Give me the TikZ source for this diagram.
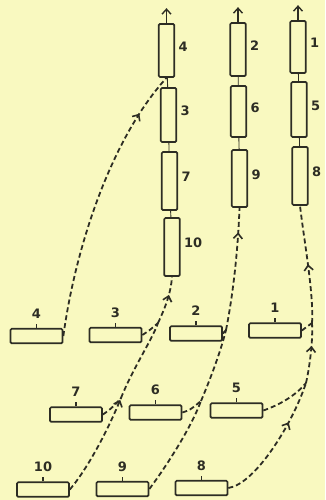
\documentclass[tikz,border=0pt]{standalone}
\usepackage{fontspec}
\usepackage{tikz}
\usetikzlibrary{arrows.meta}
\usetikzlibrary{decorations.markings}
\newfontfamily\tagfont{DejaVu Sans}
\definecolor{paper}{RGB}{249,249,192}
\definecolor{ink}{RGB}{45,45,36}
\tikzset{
  tall/.style={draw=ink, line width=1.7pt, rounded corners=1.2pt, minimum width=15.5pt, inner sep=0pt},
  flat/.style={draw=ink, line width=1.7pt, rounded corners=1.2pt, minimum width=52pt, minimum height=14.5pt, inner sep=0pt},
  tag/.style={font=\tagfont\bfseries\fontsize{13}{15}\selectfont, text=ink},
  flow/.style={draw=ink, line width=1.8pt, dash pattern=on 5pt off 3pt},
  link/.style={draw=ink, line width=0.9pt},
  chev/.style={-{Straight Barb[length=5pt,width=9pt]}},
  midtip/.style={postaction={decorate}, decoration={markings,
    mark=at position #1 with {\arrow[ink, line width=1.6pt]{Straight Barb[length=5pt,width=9pt]}}}},
}
% column slot: name, x, y, height, number
\newcommand{\colbox}[5]{%
  \node[tall, minimum height=#4pt, label={[tag, yshift=4pt]right:#5}] (#1) at (#2,#3) {};
}
% row slot: name, x, y, number
\newcommand{\rowbox}[4]{%
  \node[flat, label={[tag, label distance=6pt]above:#4}] (#1) at (#2,#3) {};
  \draw[link, line width=1.2pt] (#1.north) -- ++(0,-4);
}

\begin{document}
\begin{tikzpicture}[x=1pt, y=-1pt]
  \useasboundingbox[fill=paper] (0,0) rectangle (325,500);
  \colbox{v4}{166.5}{50.5}{53}{4}
  \colbox{v3}{168.5}{115}{54}{3}
  \colbox{v7}{169.5}{181}{58}{7}
  \colbox{v10}{172}{247}{58}{10}
  \colbox{v2}{238}{49.5}{53}{2}
  \colbox{v6}{238.5}{111.5}{51}{6}
  \colbox{v9}{239.5}{178.5}{57}{9}
  \colbox{v1}{298}{47}{52}{1}
  \colbox{v5}{299}{109.5}{55}{5}
  \colbox{v8}{300}{176}{58}{8}
  \rowbox{h4}{36.5}{336}{4}
  \rowbox{h3}{115.5}{335}{3}
  \rowbox{h2}{196}{333.5}{2}
  \rowbox{h1}{275}{330.5}{1}
  \rowbox{h7}{76}{414.5}{7}
  \rowbox{h6}{155.5}{412.5}{6}
  \rowbox{h5}{236.5}{410.5}{5}
  \rowbox{h10}{43}{489.5}{10}
  \rowbox{h9}{122.5}{489}{9}
  \rowbox{h8}{201.5}{488}{8}
  \foreach \a/\b in {v4/v3, v3/v7, v7/v10, v2/v6, v6/v9, v1/v5, v5/v8}
    \draw[link] (\a) -- (\b);
  \foreach \c in {v4, v2, v1}
    \draw[link, line width=1.4pt, chev] (\c.north) -- ++(0,-15);
  % where the side paths meet
  \coordinate (j7) at (121,398);
  \coordinate (j3) at (158,323);
  \coordinate (j6) at (201,401);
  \coordinate (j2) at (226,330);
  \coordinate (j5) at (306,383);
  \coordinate (j1) at (312,323);
  \draw[flow, midtip=0.84] (h4.east) .. controls (75,250) and (110,140) .. (v4.south);
  \draw[flow, midtip=0.98] (h10.east) .. controls (88,468) and (108,430) .. (j7);
  \draw[flow] (h7.east) .. controls (110,410) and (116,404) .. (j7);
  \draw[flow] (j7) .. controls (133,368) and (152,340) .. (j3);
  \draw[flow] (h3.east) .. controls (150,330) .. (j3);
  \draw[flow, midtip=0.62] (j3) .. controls (166,306) and (171,292) .. (v10.south);
  \draw[flow] (h9.east) .. controls (165,468) and (190,430) .. (j6);
  \draw[flow] (h6.east) .. controls (190,410) .. (j6);
  \draw[flow] (j6) .. controls (212,375) and (221,350) .. (j2);
  \draw[flow] (h2.east) -- (j2);
  \draw[flow, midtip=0.8] (j2) .. controls (233,295) and (238,250) .. (v9.south);
  \draw[flow, midtip=0.68] (h8.east) .. controls (255,484) and (292,425) .. (j5);
  \draw[flow] (h5.east) .. controls (282,404) and (297,394) .. (j5);
  \draw[flow, midtip=0.62] (j5) .. controls (310,365) and (313,340) .. (j1);
  \draw[flow] (h1.east) -- (j1);
  \draw[flow, midtip=0.5] (j1) .. controls (314,295) and (304,240) .. (v8.south);
\end{tikzpicture}
\end{document}
